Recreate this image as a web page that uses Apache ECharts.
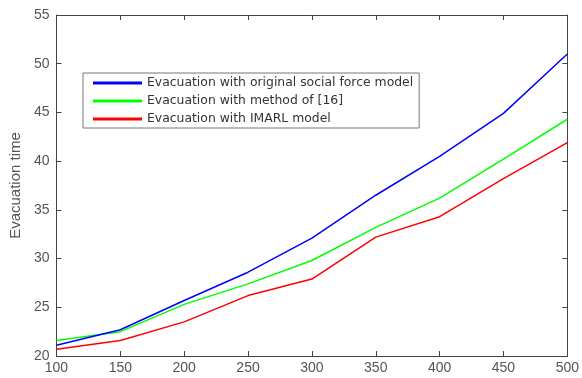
<!DOCTYPE html>
<html>
<head>
<meta charset="utf-8">
<script src="https://cdn.jsdelivr.net/npm/echarts@6/dist/echarts.min.js"></script>
<style>
  html, body { margin: 0; padding: 0; background: #fff; }
  #chart { width: 582px; height: 378px; }
</style>
</head>
<body>
<div id="chart"></div>
<script>
// crowd size on the x axis
var crowdSizes = [100, 150, 200, 250, 300, 350, 400, 450, 500];

var seriesNames = [
  'Evacuation with original social force model',
  'Evacuation with method of [16]',
  'Evacuation with IMARL model'
];

// values
var socialForce = [21.1, 22.7, 25.7, 28.6, 32.1, 36.5, 40.5, 44.9, 51.0];
var method16 = [21.6, 22.5, 25.3, 27.4, 29.8, 33.2, 36.2, 40.2, 44.3];
var imarl = [20.7, 21.6, 23.5, 26.2, 27.9, 32.2, 34.3, 38.2, 41.9];

var lineColors = ['#0000ff', '#00ff00', '#ff0000'];

function pairs(vals) {
  return crowdSizes.map(function (x, i) { return [x, vals[i]]; });
}

var axisGray = '#444';
var labelGray = '#555';
var font = 'Liberation Sans, Arial, sans-serif';

var chart = echarts.init(document.getElementById('chart'));

var option = {
  animation: false,
  backgroundColor: '#fff',
  textStyle: { fontFamily: font },
  grid: { left: 55, top: 15, right: 14, bottom: 22, containLabel: false },
  legend: {
    orient: 'vertical',
    left: 83,
    top: 73,
    padding: [3, 6, 2, 10],
    itemGap: 4,
    itemWidth: 49,
    itemHeight: 3,
    icon: 'rect',
    borderColor: '#777',
    borderWidth: 1,
    backgroundColor: '#fff',
    textStyle: { fontFamily: 'DejaVu Sans, sans-serif', fontSize: 12.4, color: '#333', lineHeight: 14 },
    data: seriesNames
  },
  xAxis: [{
    type: 'value',
    min: 100, max: 500, interval: 50,
    axisLine: { show: true, lineStyle: { color: axisGray, width: 1 } },
    axisTick: { show: true, inside: true, length: 5, lineStyle: { color: axisGray } },
    axisLabel: { color: labelGray, fontSize: 14, margin: 5, fontFamily: font },
    splitLine: { show: false }
  }, {
    type: 'value', position: 'top',
    min: 100, max: 500, interval: 50,
    axisLine: { show: true, lineStyle: { color: axisGray, width: 1 } },
    axisTick: { show: true, inside: true, length: 5, lineStyle: { color: axisGray } },
    axisLabel: { show: false },
    splitLine: { show: false }
  }],
  yAxis: [{
    type: 'value',
    min: 20, max: 55, interval: 5,
    name: 'Evacuation time',
    nameLocation: 'middle',
    nameGap: 31,
    nameTextStyle: { color: labelGray, fontSize: 15, fontFamily: font },
    axisLine: { show: true, lineStyle: { color: axisGray, width: 1 } },
    axisTick: { show: true, inside: true, length: 5, lineStyle: { color: axisGray } },
    axisLabel: { color: labelGray, fontSize: 14, margin: 7, fontFamily: font },
    splitLine: { show: false }
  }, {
    type: 'value', position: 'right',
    min: 20, max: 55, interval: 5,
    axisLine: { show: true, lineStyle: { color: axisGray, width: 1 } },
    axisTick: { show: true, inside: true, length: 5, lineStyle: { color: axisGray } },
    axisLabel: { show: false },
    splitLine: { show: false }
  }],
  series: [socialForce, method16, imarl].map(function (vals, i) {
    return {
      name: seriesNames[i],
      type: 'line',
      data: pairs(vals),
      showSymbol: false,
      symbol: 'none',
      color: lineColors[i],
      lineStyle: { color: lineColors[i], width: 1.5 },
      z: 3 - i
    };
  })
};

chart.setOption(option);
</script>
</body>
</html>
